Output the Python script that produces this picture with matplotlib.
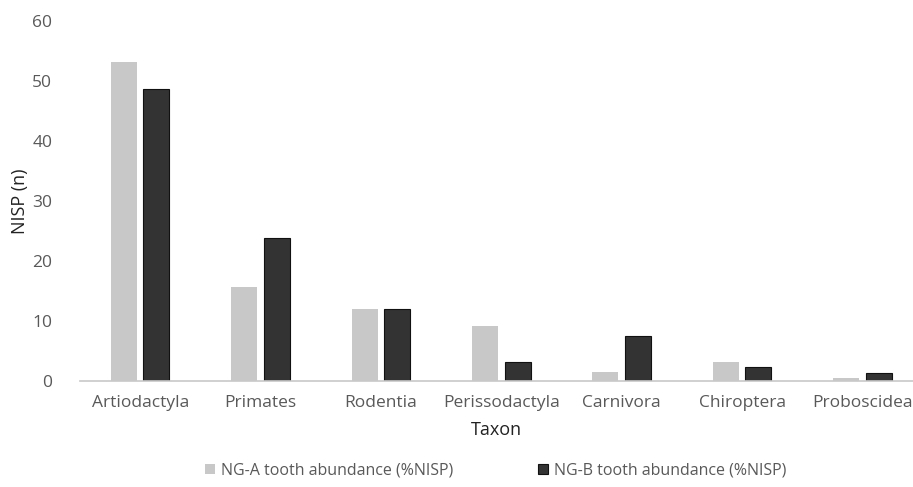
import matplotlib
matplotlib.use("Agg")
import matplotlib.pyplot as plt
import numpy as np

taxa = ['Artiodactyla', 'Primates', 'Rodentia', 'Perissodactyla', 'Carnivora', 'Chiroptera', 'Proboscidea']
ng_a = [53.2, 15.7, 12.0, 9.2, 1.5, 3.2, 0.5]
ng_b = [48.7, 23.8, 12.0, 3.2, 7.5, 2.3, 1.3]
yticks = [0, 10, 20, 30, 40, 50, 60]

plt.rcParams['font.family'] = ['Open Sans', 'DejaVu Sans']
txt = '#595959'

fig = plt.figure(figsize=(9.13, 4.87), dpi=100)
ax = fig.add_axes([80/913, 1-381/487, 1-80/913, 360/487])

x = np.arange(len(taxa))
w = 0.215
ax.bar(x - 0.135, ng_a, w, color='#c8c8c8', label='NG-A tooth abundance (%NISP)')
ax.bar(x + 0.135, ng_b, w, color='#333333', edgecolor='#111111', linewidth=0.8,
       label='NG-B tooth abundance (%NISP)')

ax.set_xlim(-0.5, 6.42)
ax.set_ylim(0, 60)
ax.set_yticks(yticks)
ax.set_xticks(x)
ax.set_xticklabels(taxa, fontsize=12.5, color=txt)
ax.tick_params(axis='y', labelsize=12.5, colors=txt, length=0, pad=20)
ax.tick_params(axis='x', length=0, pad=10)
for s in ['top', 'right', 'left']:
    ax.spines[s].set_visible(False)
ax.spines['bottom'].set_color('#c8c8c8')
ax.spines['bottom'].set_linewidth(1.2)

ax.set_ylabel('NISP (n)', fontsize=13, color='#222222', labelpad=2)
ax.set_xlabel('Taxon', fontsize=13, color='#222222', labelpad=7)

fig.legend(loc='lower center', bbox_to_anchor=(0.543, -0.012), ncol=2, frameon=False,
           fontsize=11.5, labelcolor=txt, handlelength=0.6, handleheight=0.6,
           columnspacing=5.3, handletextpad=0.4)

fig.savefig('out.png', dpi=100)
